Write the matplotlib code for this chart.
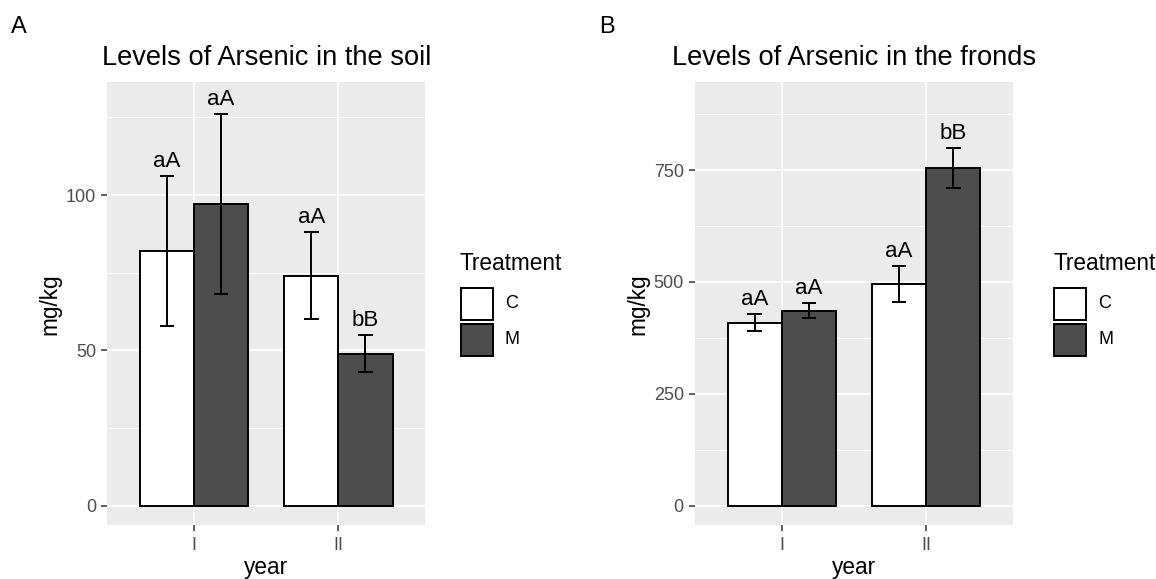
import matplotlib
matplotlib.use("Agg")
import matplotlib.pyplot as plt
from matplotlib.patches import Rectangle
from matplotlib.ticker import MultipleLocator, FixedLocator, NullLocator

plt.rcParams['font.family'] = ['Liberation Sans', 'DejaVu Sans']

# ---- data ----
years = ['I', 'II']
treatments = ['C', 'M']
fill_colors = ['#FFFFFF', '#4D4D4D']

soil_C = [82, 74]
soil_M = [97, 49]
soil_C_err = [24, 14]
soil_M_err = [29, 6]
soil_C_letters = ['aA', 'aA']
soil_M_letters = ['aA', 'bB']

fronds_C = [409, 496]
fronds_M = [436, 754]
fronds_C_err = [19, 40]
fronds_M_err = [16, 45]
fronds_C_letters = ['aA', 'aA']
fronds_M_letters = ['aA', 'bB']

# ---- style ----
W, H = 1156, 579
PANEL_BG = '#EBEBEB'
TICK_COLOR = '#333333'
TICKLABEL_COLOR = '#4D4D4D'
BAR_WIDTH = 0.375
ERR_HALF = 0.05
EDGE_LW = 1.4

fig = plt.figure(figsize=(W / 100, H / 100), dpi=100)


def px_rect(left, top, right, bottom):
    return [left / W, 1 - bottom / H, (right - left) / W, (bottom - top) / H]


def draw_panel(rect, tag, tag_x, title, means, errs, letters, ylim, major, minor,
               ylabel_x, legend_x):
    ax = fig.add_axes(rect)
    ax.set_facecolor(PANEL_BG)
    for s in ax.spines.values():
        s.set_visible(False)

    xs = list(range(1, len(years) + 1))
    offsets = [-BAR_WIDTH / 2, BAR_WIDTH / 2]
    for k in range(len(treatments)):
        bx = [x + offsets[k] for x in xs]
        ax.bar(bx, means[k], width=BAR_WIDTH, color=fill_colors[k],
               edgecolor='black', linewidth=EDGE_LW, zorder=3)
        lo = [m - e for m, e in zip(means[k], errs[k])]
        hi = [m + e for m, e in zip(means[k], errs[k])]
        ax.vlines(bx, lo, hi, color='black', linewidth=EDGE_LW, zorder=4)
        ax.hlines(lo, [b - ERR_HALF for b in bx], [b + ERR_HALF for b in bx],
                  color='black', linewidth=EDGE_LW, zorder=4)
        ax.hlines(hi, [b - ERR_HALF for b in bx], [b + ERR_HALF for b in bx],
                  color='black', linewidth=EDGE_LW, zorder=4)
        for b, h, lab in zip(bx, hi, letters[k]):
            ax.annotate(lab, (b, h), xytext=(0, 6.5), textcoords='offset points',
                        ha='center', va='baseline', fontsize=16, color='black',
                        zorder=5)

    ax.set_xlim(0.4, len(years) + 0.6)
    ax.set_ylim(*ylim)
    ax.xaxis.set_major_locator(FixedLocator(xs))
    ax.xaxis.set_minor_locator(NullLocator())
    ax.set_xticklabels(years)
    ax.yaxis.set_major_locator(MultipleLocator(major))
    ax.yaxis.set_minor_locator(MultipleLocator(minor))

    ax.grid(which='major', color='white', linewidth=1.2, zorder=0)
    ax.grid(which='minor', axis='y', color='white', linewidth=0.6, zorder=0)
    ax.set_axisbelow(True)

    ax.tick_params(axis='both', which='major', length=4.1, width=1.1,
                   color=TICK_COLOR, labelcolor=TICKLABEL_COLOR, labelsize=13)
    ax.tick_params(axis='y', which='major', pad=4)
    ax.tick_params(axis='x', which='major', pad=4.5)
    ax.tick_params(which='minor', length=0)

    ax.set_title(title, fontsize=19.6, pad=12, color='black')

    cx = (rect[0] + rect[2] / 2)
    fig.text(cx, 5 / H, 'year', ha='center', va='baseline', fontsize=16.3)
    fig.text(ylabel_x / W, 1 - 304 / H, 'mg/kg', rotation=90, ha='center',
             va='center', fontsize=16.3)
    fig.text(tag_x / W, 1 - 33 / H, tag, ha='left', va='baseline', fontsize=17)

    # legend
    fig.text(legend_x / W, 1 - 270 / H, 'Treatment', ha='left', va='baseline',
             fontsize=16.3)
    key_tops = [287.7, 323.7]
    key_size = 32
    for k, name in enumerate(treatments):
        top = key_tops[k]
        fig.add_artist(Rectangle(((legend_x + 1) / W, 1 - (top + key_size) / H),
                                 key_size / W, key_size / H,
                                 transform=fig.transFigure,
                                 facecolor=fill_colors[k], edgecolor='black',
                                 linewidth=EDGE_LW))
        fig.text((legend_x + 45) / W, 1 - (top + key_size / 2) / H, name,
                 ha='left', va='center', fontsize=13)
    return ax


draw_panel(px_rect(107.4, 81.7, 425, 525), 'A', 11,
           'Levels of Arsenic in the soil',
           [soil_C, soil_M], [soil_C_err, soil_M_err],
           [soil_C_letters, soil_M_letters],
           (-6.2, 136.5), 50, 25, 49.5, 460)

draw_panel(px_rect(695, 81.7, 1013, 525), 'B', 599,
           'Levels of Arsenic in the fronds',
           [fronds_C, fronds_M], [fronds_C_err, fronds_M_err],
           [fronds_C_letters, fronds_M_letters],
           (-43.1, 947.3), 250, 125, 637.5, 1053)

fig.savefig('out.png', dpi=100)
